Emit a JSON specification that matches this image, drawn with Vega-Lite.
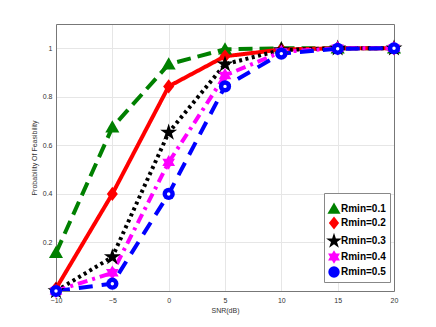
{
  "$schema": "https://vega.github.io/schema/vega-lite/v6.json",
  "width": 338,
  "height": 267,
  "autosize": {"type": "none"},
  "padding": {"left": 56, "top": 24, "right": 42, "bottom": 36},
  "background": "white",
  "config": {
    "view": {"stroke": null},
    "font": "Liberation Sans",
    "axis": {
      "labelFontSize": 7,
      "labelColor": "#333333",
      "titleFontSize": 7,
      "titleFontWeight": "normal",
      "titleColor": "#333333",
      "gridColor": "#e6e6e6",
      "gridWidth": 1,
      "domain": true,
      "domainColor": "#777777",
      "ticks": false
    }
  },
  "data": {
    "values": [
      {"snr": -10, "p": 0.157, "r": "Rmin=0.1"},
      {"snr": -5, "p": 0.674, "r": "Rmin=0.1"},
      {"snr": 0, "p": 0.934, "r": "Rmin=0.1"},
      {"snr": 5, "p": 0.996, "r": "Rmin=0.1"},
      {"snr": 10, "p": 1.0, "r": "Rmin=0.1"},
      {"snr": 15, "p": 1.0, "r": "Rmin=0.1"},
      {"snr": 20, "p": 1.0, "r": "Rmin=0.1"},
      {"snr": -10, "p": 0.01, "r": "Rmin=0.2"},
      {"snr": -5, "p": 0.40, "r": "Rmin=0.2"},
      {"snr": 0, "p": 0.843, "r": "Rmin=0.2"},
      {"snr": 5, "p": 0.967, "r": "Rmin=0.2"},
      {"snr": 10, "p": 0.995, "r": "Rmin=0.2"},
      {"snr": 15, "p": 1.0, "r": "Rmin=0.2"},
      {"snr": 20, "p": 1.0, "r": "Rmin=0.2"},
      {"snr": -10, "p": 0.0, "r": "Rmin=0.3"},
      {"snr": -5, "p": 0.14, "r": "Rmin=0.3"},
      {"snr": 0, "p": 0.653, "r": "Rmin=0.3"},
      {"snr": 5, "p": 0.934, "r": "Rmin=0.3"},
      {"snr": 10, "p": 0.993, "r": "Rmin=0.3"},
      {"snr": 15, "p": 1.0, "r": "Rmin=0.3"},
      {"snr": 20, "p": 1.0, "r": "Rmin=0.3"},
      {"snr": -10, "p": 0.0, "r": "Rmin=0.4"},
      {"snr": -5, "p": 0.075, "r": "Rmin=0.4"},
      {"snr": 0, "p": 0.53, "r": "Rmin=0.4"},
      {"snr": 5, "p": 0.888, "r": "Rmin=0.4"},
      {"snr": 10, "p": 0.985, "r": "Rmin=0.4"},
      {"snr": 15, "p": 1.0, "r": "Rmin=0.4"},
      {"snr": 20, "p": 1.0, "r": "Rmin=0.4"},
      {"snr": -10, "p": 0.0, "r": "Rmin=0.5"},
      {"snr": -5, "p": 0.03, "r": "Rmin=0.5"},
      {"snr": 0, "p": 0.40, "r": "Rmin=0.5"},
      {"snr": 5, "p": 0.843, "r": "Rmin=0.5"},
      {"snr": 10, "p": 0.978, "r": "Rmin=0.5"},
      {"snr": 15, "p": 0.998, "r": "Rmin=0.5"},
      {"snr": 20, "p": 1.0, "r": "Rmin=0.5"}
    ]
  },
  "encoding": {
    "x": {
      "field": "snr", "type": "quantitative",
      "scale": {"domain": [-10, 20], "nice": false, "zero": false},
      "axis": {"values": [-10, -5, 0, 5, 10, 15, 20], "title": "SNR(dB)", "labelPadding": 5, "titlePadding": 3, "labelFlush": false}
    },
    "y": {
      "field": "p", "type": "quantitative",
      "scale": {"domain": [0, 1.1], "nice": false},
      "axis": {"values": [0, 0.2, 0.4, 0.6, 0.8, 1], "format": "~g", "labelExpr": "datum.value == 0 ? '' : datum.label", "title": "Probability Of Feasibility", "labelPadding": 4, "titlePadding": 5}
    },
    "color": {
      "field": "r", "type": "nominal",
      "scale": {"domain": ["Rmin=0.1", "Rmin=0.2", "Rmin=0.3", "Rmin=0.4", "Rmin=0.5"], "range": ["#008000", "#ff0000", "#000000", "#ff00ff", "#0000ff"]},
      "legend": {
        "title": " ",
        "titleFontSize": 6,
        "titlePadding": 0,
        "orient": "none",
        "legendX": 268,
        "legendY": 169,
        "labelFontSize": 10,
        "labelFontWeight": "bold",
        "labelColor": "#000000",
        "symbolSize": 130,
        "symbolStrokeWidth": 0,
        "rowPadding": 2,
        "padding": 4,
        "strokeColor": "#888888",
        "fillColor": "white",
        "labelOffset": 1,
        "symbolOffset": 0
      }
    }
  },
  "layer": [
    {
      "mark": {"type": "line", "strokeWidth": 4, "clip": true},
      "encoding": {
        "strokeDash": {
          "field": "r", "type": "nominal", "legend": null,
          "scale": {"domain": ["Rmin=0.1", "Rmin=0.2", "Rmin=0.3", "Rmin=0.4", "Rmin=0.5"], "range": [[14, 7], [1, 0], [3, 3.5], [10, 5, 3, 5], [14, 9]]}
        }
      }
    },
    {
      "mark": {"type": "point", "filled": true, "opacity": 1, "clip": false, "size": 150},
      "encoding": {
        "x": {"field": "snr", "type": "quantitative", "axis": {"values": [-10, -5, 0, 5, 10, 15, 20], "labelOpacity": 0, "grid": false, "title": null, "domain": true, "domainColor": "#777777", "ticks": false}},
        "y": {"field": "p", "type": "quantitative", "axis": {"values": [0.2, 0.4, 0.6, 0.8, 1], "labelOpacity": 0, "grid": false, "title": null, "domain": true, "domainColor": "#777777", "ticks": false}},
        "shape": {
          "field": "r", "type": "nominal",
          "scale": {"domain": ["Rmin=0.1", "Rmin=0.2", "Rmin=0.3", "Rmin=0.4", "Rmin=0.5"], "range": ["M0,-1.15L1.15,0.85L-1.15,0.85Z", "M0,-1.15L0.9,0L0,1.15L-0.9,0Z", "M0,-1.45L0.326,-0.448L1.379,-0.448L0.526,0.171L0.853,1.173L0,0.554L-0.853,1.173L-0.526,0.171L-1.379,-0.448L-0.326,-0.448Z", "M0,-1.2L0.346,-0.6L1.039,-0.6L0.692,0L1.039,0.6L0.346,0.6L0,1.2L-0.346,0.6L-1.039,0.6L-0.692,0L-1.039,-0.6L-0.346,-0.6Z", "circle"]}
        }
      }
    },
    {
      "transform": [{"filter": "datum.r == 'Rmin=0.5'"}],
      "mark": {"type": "point", "filled": true, "size": 12, "color": "white", "opacity": 1},
      "encoding": {
        "x": {"field": "snr", "type": "quantitative", "axis": null},
        "y": {"field": "p", "type": "quantitative", "axis": null},
        "color": {"value": "white"}
      }
    }
  ],
  "resolve": {"axis": {"x": "independent", "y": "independent"}}
}
